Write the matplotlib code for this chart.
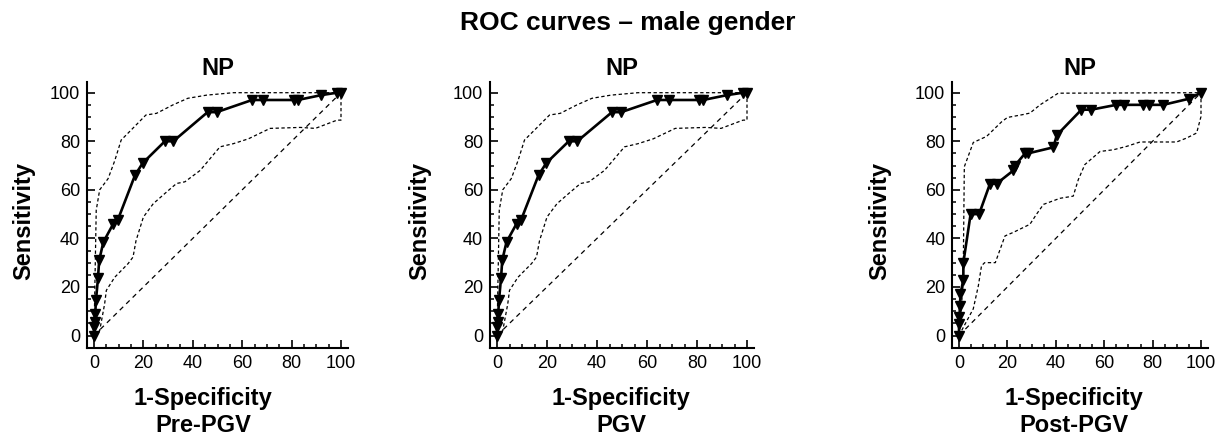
import matplotlib
matplotlib.use("Agg")
import matplotlib.pyplot as plt
from matplotlib.ticker import MultipleLocator

plt.rcParams['font.family'] = ['Liberation Sans', 'DejaVu Sans']
plt.rcParams['lines.scale_dashes'] = False

# ---------------- data ----------------
panel_names = ["Pre-PGV", "PGV", "Post-PGV"]
panel_titles = ["NP", "NP", "NP"]

# Pre-PGV
pre_roc_x = [0, 0, 0.3, 0.5, 0.8, 1.6, 2.1, 3.8, 7.8, 9.6, 16.6, 19.7, 28.7, 32.1, 46, 49.7, 64, 68.6, 80.8, 82.5, 92, 98.4, 100]
pre_roc_y = [0, 3.5, 5.5, 9, 14.5, 23.5, 31, 38.5, 46, 47.5, 66, 71, 80, 80, 92, 92, 97, 97, 97, 97, 99, 100, 100]
pre_up_x = [0, 0.9, 2.3, 5.7, 8.4, 11, 15, 21, 25.3, 32, 38, 45.6, 56.4, 100]
pre_up_y = [0, 51.6, 60, 64.6, 72, 80.5, 84.6, 90.8, 91.5, 95, 97.7, 99, 100, 100]
pre_lo_x = [0, 2.3, 4.3, 5, 8.4, 13.8, 15.8, 17, 20, 24, 28.7, 33.4, 36.8, 43, 51, 56.4, 62.5, 71.3, 83.5, 89.6, 98.4, 100, 100]
pre_lo_y = [0, 2, 13, 18.6, 24, 29.6, 32.3, 39, 48.8, 54.3, 58.5, 62.6, 63.3, 68, 77.7, 79, 81, 85.3, 85.7, 85.3, 88.7, 88.7, 100]

# PGV
pgv_roc_x = [0, 0, 0.3, 0.5, 0.8, 1.6, 2.1, 3.8, 7.8, 9.6, 16.6, 19.7, 28.7, 32.1, 46, 49.7, 64, 68.6, 80.8, 82.5, 92, 98.4, 100]
pgv_roc_y = [0, 3.5, 5.5, 9, 14.5, 23.5, 31, 38.5, 46, 47.5, 66, 71, 80, 80, 92, 92, 97, 97, 97, 97, 99, 100, 100]
pgv_up_x = [0, 0.9, 2.3, 5.7, 8.4, 11, 15, 21, 25.3, 32, 38, 45.6, 56.4, 100]
pgv_up_y = [0, 51.6, 60, 64.6, 72, 80.5, 84.6, 90.8, 91.5, 95, 97.7, 99, 100, 100]
pgv_lo_x = [0, 2.3, 4.3, 5, 8.4, 13.8, 15.8, 17, 20, 24, 28.7, 33.4, 36.8, 43, 51, 56.4, 62.5, 71.3, 83.5, 89.6, 98.4, 100, 100]
pgv_lo_y = [0, 2, 13, 18.6, 24, 29.6, 32.3, 39, 48.8, 54.3, 58.5, 62.6, 63.3, 68, 77.7, 79, 81, 85.3, 85.7, 85.3, 88.7, 88.7, 100]

# Post-PGV
post_roc_x = [0, 0, 0.2, 0.4, 0.6, 1.8, 1.8, 4.8, 8.3, 12.8, 15.5, 22.5, 23.1, 27.3, 28.5, 39, 40.4, 50.6, 54.6, 65, 68, 76, 78.5, 84.4, 95, 100]
post_roc_y = [0, 4.8, 7.5, 12.3, 17, 23, 30, 50, 50, 62.5, 62.5, 68, 70, 75, 75, 77.5, 82.5, 93, 93, 95, 95, 95, 95, 95, 97.5, 100]
post_up_x = [0, 1.7, 2.2, 5.9, 11.4, 17.6, 20, 26.5, 29.3, 33.5, 41, 100]
post_up_y = [0, 21, 69.5, 79.5, 82, 88, 89.8, 91, 91.6, 95, 99.8, 100]
post_lo_x = [0, 5.9, 8, 9.3, 10.6, 15, 19, 22.5, 29.3, 32, 34.9, 41.7, 47.2, 49.3, 52, 58.3, 63.8, 69.3, 74.8, 89.9, 94, 98.2, 100, 100]
post_lo_y = [0, 11, 20.5, 28.7, 30, 30, 41, 42.5, 45.8, 49.9, 54, 56.5, 57.4, 64.2, 70.4, 75.8, 76.5, 77.9, 79.7, 79.7, 81.3, 83.4, 90.2, 100]

diag_x = [0, 100]
diag_y = [0, 100]

x_ticks = [0, 20, 40, 60, 80, 100]
y_ticks = [0, 20, 40, 60, 80, 100]

series = [
    (pre_roc_x, pre_roc_y, pre_up_x, pre_up_y, pre_lo_x, pre_lo_y),
    (pgv_roc_x, pgv_roc_y, pgv_up_x, pgv_up_y, pgv_lo_x, pgv_lo_y),
    (post_roc_x, post_roc_y, post_up_x, post_up_y, post_lo_x, post_lo_y),
]

# ---------------- layout (pixels) ----------------
W, H = 1228, 437
fig = plt.figure(figsize=(W / 100, H / 100), dpi=100)

x0_px = [94, 497, 959]
x100_px = [341, 747, 1201]
y0_px, y100_px = 335.5, 92.7
XL = (-2.8, 102.8)
YL = (-5, 104.5)

ylabel_x = [24, 420, 880]
xlabel_cx = [203, 621, 1074]
np_cx = [218, 622, 1080]

for i in range(3):
    sx = (x100_px[i] - x0_px[i]) / 100.0
    sy = (y0_px - y100_px) / 100.0
    left = x0_px[i] + XL[0] * sx
    right = x0_px[i] + XL[1] * sx
    bottom = y0_px - YL[0] * sy
    top = y0_px - YL[1] * sy
    ax = fig.add_axes([left / W, 1 - bottom / H, (right - left) / W, (bottom - top) / H])
    ax.set_xlim(*XL)
    ax.set_ylim(*YL)

    rx, ry, ux, uy, lx, ly = series[i]
    ax.plot(diag_x, diag_y, color='black', lw=0.9, dashes=(3.5, 3.0), clip_on=False)
    ax.plot(ux, uy, color='black', lw=0.9, dashes=(2.4, 1.8), clip_on=False)
    ax.plot(lx, ly, color='black', lw=0.9, dashes=(2.4, 1.8), clip_on=False)
    ax.plot(rx, ry, color='black', lw=1.9, marker='v', markersize=6.5,
            markerfacecolor='black', markeredgecolor='black', clip_on=False, zorder=5)

    for s in ['top', 'right']:
        ax.spines[s].set_visible(False)
    for s in ['left', 'bottom']:
        ax.spines[s].set_linewidth(1.5)
    ax.set_xticks(x_ticks)
    ax.set_yticks(y_ticks)
    ax.xaxis.set_minor_locator(MultipleLocator(5))
    ax.yaxis.set_minor_locator(MultipleLocator(5))
    ax.tick_params(which='major', direction='in', length=6, width=1.2, labelsize=13)
    ax.tick_params(which='minor', direction='in', length=3, width=1.1)
    ax.tick_params(axis='y', which='major', pad=5)
    ax.tick_params(axis='x', which='major', pad=5)

    fig.text(np_cx[i] / W, 1 - 75 / H, panel_titles[i], ha='center', va='baseline',
             fontsize=17, fontweight='bold')
    fig.text(ylabel_x[i] / W, 1 - 221 / H, "Sensitivity", ha='center', va='center',
             rotation=90, fontsize=17, fontweight='bold')
    fig.text(xlabel_cx[i] / W, 1 - 405 / H, "1-Specificity", ha='center', va='baseline',
             fontsize=17, fontweight='bold')
    fig.text(xlabel_cx[i] / W, 1 - 432 / H, panel_names[i], ha='center', va='baseline',
             fontsize=17, fontweight='bold')

fig.text(628 / W, 1 - 30 / H, "ROC curves \u2013 male gender", ha='center', va='baseline',
         fontsize=19, fontweight='bold')

fig.savefig("out.png", dpi=100)
